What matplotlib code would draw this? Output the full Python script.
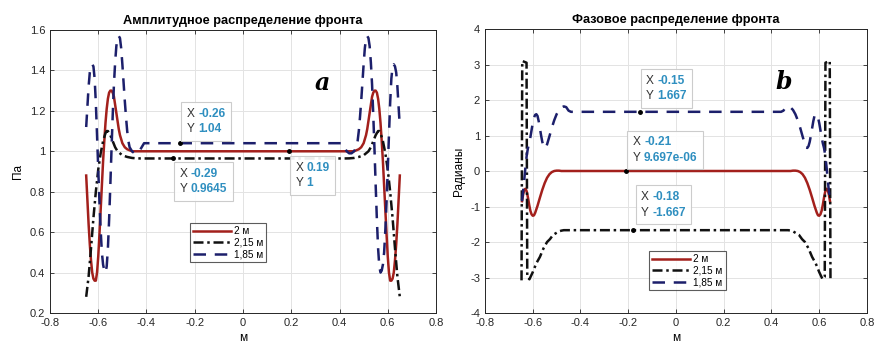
import matplotlib
matplotlib.use("Agg")
import matplotlib.pyplot as plt
from matplotlib.offsetbox import TextArea, HPacker, VPacker, AnnotationBbox

plt.rcParams['font.family'] = ['Liberation Sans', 'DejaVu Sans']

# ---- amplitude (left), left half of each curve; right half is mirrored ----
amp_red_x = [-0.650, -0.645, -0.640, -0.635, -0.630, -0.625, -0.620, -0.615, -0.610, -0.605,
             -0.600, -0.595, -0.590, -0.585, -0.580, -0.575, -0.570, -0.565, -0.560, -0.555,
             -0.550, -0.545, -0.540, -0.535, -0.530, -0.525, -0.520, -0.515, -0.510, -0.505,
             -0.500, -0.490, -0.480, -0.470, -0.460, -0.450, 0.0]
amp_red_y = [0.88, 0.76, 0.64, 0.54, 0.46, 0.40, 0.37, 0.36, 0.36, 0.40,
             0.48, 0.59, 0.71, 0.83, 0.95, 1.05, 1.14, 1.21, 1.26, 1.29,
             1.30, 1.30, 1.29, 1.27, 1.23, 1.19, 1.15, 1.11, 1.08, 1.06,
             1.04, 1.02, 1.01, 1.005, 1.0, 1.0, 1.0]

amp_blk_x = [-0.650, -0.640, -0.630, -0.620, -0.610, -0.600, -0.590, -0.580, -0.570, -0.565,
             -0.560, -0.550, -0.540, -0.530, -0.520, -0.510, -0.500, -0.480, -0.460, -0.440,
             -0.420, 0.0]
amp_blk_y = [0.28, 0.38, 0.52, 0.67, 0.80, 0.91, 0.99, 1.05, 1.09, 1.10,
             1.10, 1.08, 1.05, 1.02, 1.00, 0.99, 0.98, 0.972, 0.967, 0.965,
             0.9645, 0.9645]

amp_blu_x = [-0.650, -0.645, -0.640, -0.635, -0.630, -0.625, -0.620, -0.615, -0.610, -0.605,
             -0.600, -0.595, -0.590, -0.585, -0.580, -0.575, -0.570, -0.565, -0.560, -0.555,
             -0.550, -0.545, -0.540, -0.535, -0.530, -0.525, -0.520, -0.515, -0.510, -0.505,
             -0.500, -0.495, -0.490, -0.485, -0.480, -0.475, -0.470, -0.460, -0.450, -0.440,
             -0.430, -0.420, -0.410, -0.400, 0.0]
amp_blu_y = [1.12, 1.22, 1.32, 1.39, 1.42, 1.43, 1.42, 1.36, 1.24, 1.08,
             0.91, 0.75, 0.61, 0.50, 0.44, 0.41, 0.40, 0.43, 0.52, 0.66,
             0.83, 1.01, 1.18, 1.33, 1.44, 1.52, 1.56, 1.57, 1.56, 1.51,
             1.43, 1.34, 1.25, 1.17, 1.10, 1.05, 1.02, 1.00, 0.99, 0.99,
             1.00, 1.02, 1.04, 1.04, 1.04]

# ---- phase (right) ----
ph_red_x = [-0.645, -0.640, -0.635, -0.630, -0.625, -0.620, -0.615, -0.610, -0.605, -0.600,
            -0.595, -0.590, -0.580, -0.570, -0.560, -0.550, -0.540, -0.530, -0.520, -0.510,
            -0.500, -0.490, -0.480, 0.0]
ph_red_y = [-0.85, -0.65, -0.52, -0.50, -0.58, -0.75, -0.95, -1.12, -1.22, -1.26,
            -1.25, -1.18, -0.98, -0.75, -0.53, -0.34, -0.19, -0.09, -0.03, 0.0,
            0.01, 0.01, 0.0, 0.0]

ph_blk_x = [-0.647, -0.644, -0.626, -0.623, -0.614, -0.600, -0.585, -0.570, -0.555, -0.540,
            -0.528, -0.515, -0.500, -0.490, -0.480, -0.470, 0.0]
ph_blk_y = [-3.08, 3.10, 3.05, -2.98, -3.05, -2.85, -2.60, -2.42, -2.18, -2.00,
            -1.92, -1.80, -1.74, -1.70, -1.68, -1.667, -1.667]

ph_blu_x = [-0.645, -0.640, -0.635, -0.630, -0.625, -0.620, -0.615, -0.610, -0.605, -0.600,
            -0.595, -0.590, -0.585, -0.580, -0.575, -0.570, -0.565, -0.560, -0.555, -0.550,
            -0.545, -0.540, -0.530, -0.520, -0.510, -0.500, -0.490, -0.480, -0.470, -0.460,
            -0.455, -0.450, -0.440, 0.0]
ph_blu_y = [-0.85, -0.55, -0.20, 0.15, 0.45, 0.65, 0.78, 0.95, 1.15, 1.35,
            1.50, 1.58, 1.60, 1.55, 1.40, 1.20, 1.00, 0.82, 0.70, 0.65,
            0.66, 0.75, 0.98, 1.22, 1.43, 1.60, 1.72, 1.79, 1.82, 1.80,
            1.75, 1.70, 1.667, 1.667]

labels = ['2 м', '2,15 м', '1,85 м']

amp_tips = [(-0.26, 1.04, '-0.26', '1.04'), (-0.29, 0.9645, '-0.29', '0.9645'), (0.19, 1.0, '0.19', '1')]
ph_tips = [(-0.15, 1.667, '-0.15', '1.667'), (-0.21, 9.697e-06, '-0.21', '9.697e-06'),
           (-0.18, -1.667, '-0.18', '-1.667')]


def mirror(xs, ys):
    # curves are symmetric about x = 0
    x = list(xs) + [-v for v in reversed(xs[:-1])]
    y = list(ys) + list(reversed(ys[:-1]))
    return x, y


RED = '#a3201c'
BLK = '#111111'
BLU = '#1c1f6b'
TIPC = '#2f8fc0'
TIPFS = 8.6


def datatip(ax, x, y, xs, ys, off, align):
    ax.plot([x], [y], 'o', color='black', ms=2.5, zorder=6)
    r1 = HPacker(children=[TextArea('X ', textprops=dict(color='#333333', fontsize=TIPFS)),
                           TextArea(xs, textprops=dict(color=TIPC, fontsize=TIPFS, fontweight='bold'))],
                 pad=0, sep=0)
    r2 = HPacker(children=[TextArea('Y ', textprops=dict(color='#333333', fontsize=TIPFS)),
                           TextArea(ys, textprops=dict(color=TIPC, fontsize=TIPFS, fontweight='bold'))],
                 pad=0, sep=0)
    box = VPacker(children=[r1, r2], pad=0, sep=2.5, align='left')
    ab = AnnotationBbox(box, (x, y), xybox=off, xycoords='data', boxcoords='offset points',
                        box_alignment=align, pad=0.4, frameon=True,
                        bboxprops=dict(edgecolor='#c8c8c8', facecolor='white', alpha=0.92, lw=0.8))
    ab.set_zorder(7)
    ax.add_artist(ab)


def style(ax, ylim, yticks):
    ax.set_xlim(-0.8, 0.8)
    ax.set_ylim(*ylim)
    ax.set_xticks([-0.8, -0.6, -0.4, -0.2, 0, 0.2, 0.4, 0.6, 0.8])
    ax.set_yticks(yticks)
    ax.xaxis.set_major_formatter(plt.FuncFormatter(lambda v, p: '%g' % round(v, 2)))
    ax.yaxis.set_major_formatter(plt.FuncFormatter(lambda v, p: '%g' % round(v, 2)))
    ax.grid(True, color='#e3e3e3', lw=0.7)
    ax.set_axisbelow(True)
    ax.tick_params(direction='in', length=3, labelsize=8, top=True, right=True,
                   colors='#262626', width=0.6)
    for s in ax.spines.values():
        s.set_color('#262626')
        s.set_linewidth(0.7)


fig = plt.figure(figsize=(8.78, 3.45), dpi=100)
ax1 = fig.add_axes([50 / 878, 32 / 345, 386 / 878, 283 / 345])
ax2 = fig.add_axes([485 / 878, 32 / 345, 382 / 878, 284 / 345])

x, y = mirror(amp_red_x, amp_red_y)
ax1.plot(x, y, '-', color=RED, lw=1.8, label=labels[0])
x, y = mirror(amp_blk_x, amp_blk_y)
ax1.plot(x, y, color=BLK, lw=1.8, dashes=(4, 1.5, 1, 1.5), label=labels[1])
x, y = mirror(amp_blu_x, amp_blu_y)
ax1.plot(x, y, color=BLU, lw=1.8, dashes=(5, 3.5), label=labels[2])

x, y = mirror(ph_red_x, ph_red_y)
ax2.plot(x, y, '-', color=RED, lw=1.8, label=labels[0])
x, y = mirror(ph_blk_x, ph_blk_y)
ax2.plot(x, y, color=BLK, lw=1.8, dashes=(4, 1.5, 1, 1.5), label=labels[1])
x, y = mirror(ph_blu_x, ph_blu_y)
ax2.plot(x, y, color=BLU, lw=1.8, dashes=(5, 3.5), label=labels[2])

style(ax1, (0.2, 1.6), [0.2, 0.4, 0.6, 0.8, 1.0, 1.2, 1.4, 1.6])
style(ax2, (-4, 4), [-4, -3, -2, -1, 0, 1, 2, 3, 4])

ax1.set_title('Амплитудное распределение фронта', fontsize=9.2, fontweight='bold', pad=4)
ax2.set_title('Фазовое распределение фронта', fontsize=9.2, fontweight='bold', pad=4)
ax1.set_ylabel('Па', fontsize=8.5, labelpad=4)
ax2.set_ylabel('Радианы', fontsize=8.5, labelpad=4)
ax1.set_xlabel('м', fontsize=8.5, labelpad=3)
ax2.set_xlabel('м', fontsize=8.5, labelpad=3)

ax1.text(0.33, 1.34, 'a', fontsize=17, fontstyle='italic', fontweight='bold',
         family='DejaVu Serif', ha='center', va='center')
ax2.text(0.45, 2.5, 'b', fontsize=17, fontstyle='italic', fontweight='bold',
         family='DejaVu Serif', ha='center', va='center')

leg_kw = dict(fontsize=7.2, frameon=True, fancybox=False, edgecolor='#333333',
              handlelength=3.8, handletextpad=0.3, borderpad=0.3, labelspacing=0.15,
              borderaxespad=0)
l1 = ax1.legend(loc='lower left', bbox_to_anchor=(0.363, 0.18), **leg_kw)
l2 = ax2.legend(loc='lower left', bbox_to_anchor=(0.43, 0.08), **leg_kw)
for l in (l1, l2):
    l.get_frame().set_linewidth(0.8)

amp_off = [((4.8, 5.6), (0, 0)), ((4.8, -6.6), (0, 1)), ((4.8, -7.7), (0, 1))]
for (tx, ty, sx, sy), (off, al) in zip(amp_tips, amp_off):
    datatip(ax1, tx, ty, sx, sy, off, al)
ph_off = [((4.5, 7.0), (0, 0)), ((5.1, 5.3), (0, 0)), ((6.1, 8.4), (0, 0))]
for (tx, ty, sx, sy), (off, al) in zip(ph_tips, ph_off):
    datatip(ax2, tx, ty, sx, sy, off, al)

fig.savefig('out.png', dpi=100)
